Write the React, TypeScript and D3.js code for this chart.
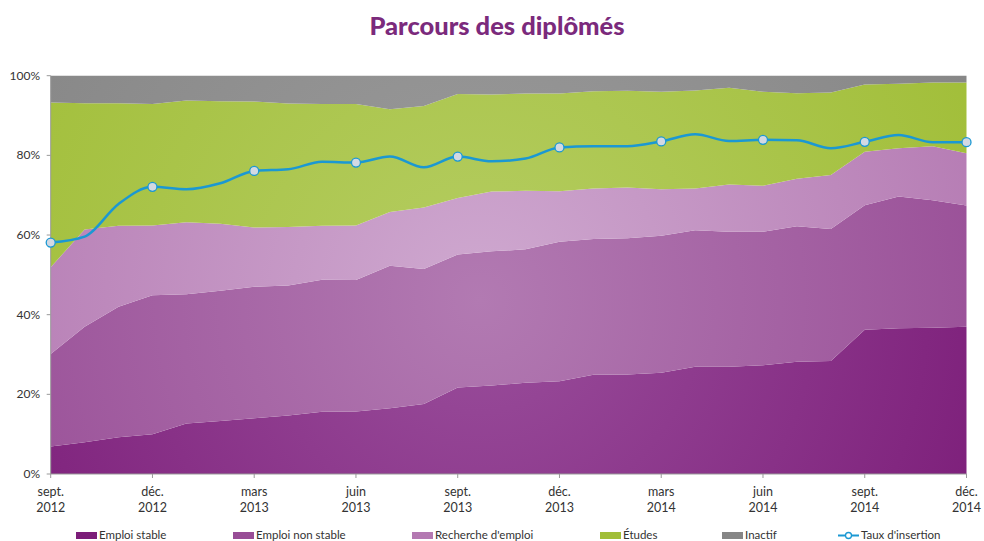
import * as React from "react";
import { scaleLinear, area, line, curveLinear, curveMonotoneX } from "d3";

// months from sept. 2012 to déc. 2014
const months = [
  "2012-09", "2012-10", "2012-11", "2012-12", "2013-01", "2013-02", "2013-03",
  "2013-04", "2013-05", "2013-06", "2013-07", "2013-08", "2013-09", "2013-10",
  "2013-11", "2013-12", "2014-01", "2014-02", "2014-03", "2014-04", "2014-05",
  "2014-06", "2014-07", "2014-08", "2014-09", "2014-10", "2014-11", "2014-12",
];

const emploiStable = [
  6.9, 8.0, 9.2, 10.0, 12.7, 13.3, 14.0, 14.7, 15.6, 15.7, 16.5, 17.6, 21.7, 22.2,
  22.9, 23.3, 24.9, 25.0, 25.4, 26.9, 26.9, 27.3, 28.2, 28.4, 36.2, 36.6, 36.7, 37.0,
];
const emploiNonStable = [
  23.2, 29.0, 32.8, 34.9, 32.4, 32.7, 33.0, 32.6, 33.2, 33.0, 35.8, 33.9, 33.4, 33.7,
  33.5, 35.0, 34.1, 34.2, 34.4, 34.3, 33.9, 33.5, 34.0, 33.1, 31.3, 33.1, 32.0, 30.4,
];
const rechercheEmploi = [
  21.8, 24.4, 20.3, 17.5, 18.1, 16.8, 14.9, 14.7, 13.5, 13.7, 13.5, 15.4, 14.2, 15.0,
  14.7, 12.7, 12.7, 12.7, 11.7, 10.5, 11.9, 11.6, 11.9, 13.6, 13.4, 12.1, 13.6, 13.1,
];
const etudes = [
  41.4, 31.7, 30.8, 30.5, 30.6, 30.8, 31.6, 31.0, 30.6, 30.5, 25.8, 25.5, 26.1, 24.4,
  24.4, 24.5, 24.4, 24.3, 24.5, 24.6, 24.3, 23.6, 21.5, 20.7, 16.9, 16.2, 16.0, 17.8,
];
const inactif = [
  6.7, 6.9, 6.9, 7.1, 6.2, 6.4, 6.5, 7.0, 7.1, 7.1, 8.4, 7.6, 4.6, 4.7,
  4.5, 4.5, 3.9, 3.8, 4.0, 3.7, 3.0, 4.0, 4.4, 4.2, 2.2, 2.0, 1.7, 1.7,
];
const tauxInsertion = [
  58.1, 59.6, 67.8, 72.1, 71.5, 73.0, 76.1, 76.5, 78.4, 78.2, 79.7, 77.0, 79.7, 78.5,
  79.2, 82.0, 82.3, 82.3, 83.5, 85.3, 83.6, 83.9, 83.8, 81.8, 83.4, 85.1, 83.3, 83.3,
];

const tickMonths = ["sept.", "déc.", "mars", "juin", "sept.", "déc.", "mars", "juin", "sept.", "déc."];
const tickYears = ["2012", "2012", "2013", "2013", "2013", "2013", "2014", "2014", "2014", "2014"];
const yTicks = [0, 20, 40, 60, 80, 100];

const seriesNames = ["Emploi stable", "Emploi non stable", "Recherche d'emploi", "Études", "Inactif"];
const seriesValues = [emploiStable, emploiNonStable, rechercheEmploi, etudes, inactif];
const edgeColors = ["#7c1d79", "#984d96", "#b479b2", "#a1be38", "#868686"];
const centerColors = ["#9a4f9c", "#b27ab2", "#cfa9d0", "#b5cd62", "#9c9c9c"];
const lineColor = "#1b98d3";

const W = 984;
const H = 541;
const left = 50.7;
const right = 966.5;
const top = 75.7;
const bottom = 474;

function App() {
  const x = scaleLinear().domain([0, months.length - 1]).range([left, right]);
  const y = scaleLinear().domain([0, 100]).range([bottom, top]);

  // cumulative stacking
  const stacks: [number, number][][] = [];
  let base = months.map(() => 0);
  seriesValues.forEach((vals, s) => {
    const layer = vals.map((v, i) => {
      const lo = base[i];
      const hi = s === seriesValues.length - 1 ? 100 : lo + v;
      return [lo, hi] as [number, number];
    });
    stacks.push(layer);
    base = layer.map((d) => d[1]);
  });

  const areaGen = area<[number, number]>()
    .x((_, i) => x(i))
    .y0((d) => y(d[0]))
    .y1((d) => y(d[1]))
    .curve(curveLinear);

  const lineGen = line<number>()
    .x((_, i) => x(i))
    .y((d) => y(d))
    .curve(curveMonotoneX);

  const tickIdx = tickMonths.map((_, k) => k * 3);

  const legendX = [76, 233, 412, 600, 722];
  const font = "Lato, 'Open Sans', sans-serif";

  return (
    <div style={{ position: "fixed", left: 0, top: 0 }}>
      <svg width={W} height={H} style={{ display: "block", background: "#fff" }}>
        <defs>
          {seriesNames.map((_, s) => (
            <radialGradient
              key={s}
              id={`grad${s}`}
              gradientUnits="userSpaceOnUse"
              cx={480}
              cy={300}
              r={560}
            >
              <stop offset="0" stopColor={centerColors[s]} />
              <stop offset="1" stopColor={edgeColors[s]} />
            </radialGradient>
          ))}
        </defs>

        <text
          x={497}
          y={35}
          textAnchor="middle"
          fontFamily={font}
          fontWeight={900}
          fontSize={25.5}
          fill="#7b2a7c"
        >
          Parcours des diplômés
        </text>

        {stacks.map((layer, s) => (
          <path key={s} d={areaGen(layer) || ""} fill={`url(#grad${s})`} />
        ))}

        {/* axes */}
        <line x1={left} x2={left} y1={top} y2={bottom} stroke="#999" strokeWidth={1} />
        <line x1={left} x2={right} y1={bottom} y2={bottom} stroke="#999" strokeWidth={1} />
        {yTicks.map((t) => (
          <g key={t}>
            <line x1={left - 4} x2={left} y1={y(t)} y2={y(t)} stroke="#999" />
            <text
              x={40}
              y={y(t) + 4}
              textAnchor="end"
              fontFamily={font}
              fontSize={12}
              fill="#333"
            >
              {t}%
            </text>
          </g>
        ))}
        {tickIdx.map((i, k) => (
          <g key={k}>
            <line x1={x(i)} x2={x(i)} y1={bottom} y2={bottom + 4} stroke="#999" />
            <text x={x(i)} y={496} textAnchor="middle" fontFamily={font} fontSize={12.5} fill="#333">
              {tickMonths[k]}
            </text>
            <text x={x(i)} y={512} textAnchor="middle" fontFamily={font} fontSize={12.5} fill="#333">
              {tickYears[k]}
            </text>
          </g>
        ))}

        {/* insertion line */}
        <path d={lineGen(tauxInsertion) || ""} fill="none" stroke={lineColor} strokeWidth={2.5} />
        {tickIdx.map((i) => (
          <circle
            key={i}
            cx={x(i)}
            cy={y(tauxInsertion[i])}
            r={4.5}
            fill="#d3d9e3"
            stroke={lineColor}
            strokeWidth={1.3}
          />
        ))}

        {/* legend */}
        {seriesNames.map((name, s) => (
          <g key={name}>
            <rect x={legendX[s]} y={532} width={21} height={7} fill={edgeColors[s]} />
            <text x={legendX[s] + 23} y={539} fontFamily={font} fontSize={11.5} fill="#333">
              {name}
            </text>
          </g>
        ))}
        <g>
          <line x1={838} x2={859} y1={535.5} y2={535.5} stroke={lineColor} strokeWidth={2} />
          <circle cx={848.5} cy={535.5} r={3} fill="#fff" stroke={lineColor} strokeWidth={1.3} />
          <text x={861} y={539} fontFamily={font} fontSize={11.5} fill="#333">
            Taux d'insertion
          </text>
        </g>
      </svg>
    </div>
  );
}

export default App;
